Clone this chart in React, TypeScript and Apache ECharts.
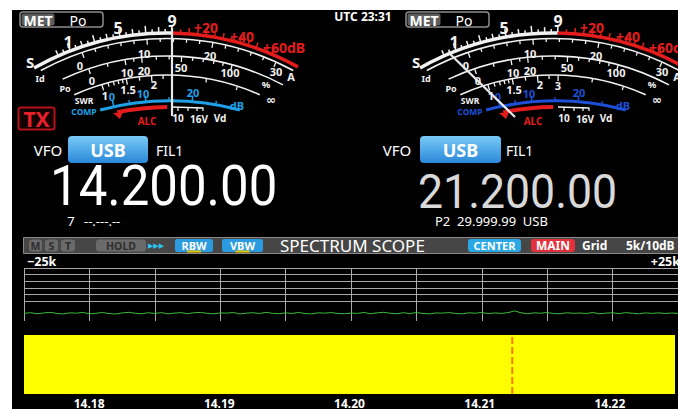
import React, { useEffect, useRef } from 'react';
import * as echarts from 'echarts';

// ---------------- data ----------------
const scopeNoiseDb = [
  11.4, 12.6, 10.9, 12.1, 13.0, 11.5, 10.7, 12.3, 11.8, 12.9,
  11.0, 11.6, 12.8, 11.2, 10.5, 12.1, 13.1, 11.7, 10.9, 12.5,
  11.3, 12.7, 10.8, 11.9, 12.6, 11.1, 12.4, 13.0, 11.5, 10.8,
  12.2, 11.9, 12.8, 10.7, 11.8, 12.5, 11.3, 13.0, 11.6, 11.0,
  12.3, 11.4, 12.9, 11.1, 10.8, 12.4, 11.8, 12.7, 11.3, 10.9,
  12.0, 11.5, 12.8, 11.0, 12.3, 13.1, 11.7, 10.9, 12.5, 11.2,
  12.8, 11.4, 10.7, 12.1, 11.9, 12.7, 11.3, 10.8, 12.4, 11.7,
  12.9, 11.1, 12.2, 11.5, 12.6, 15.2, 12.4, 11.0, 12.3, 11.8,
  12.7, 11.2, 10.9, 12.5, 11.6, 12.0, 11.3, 12.8, 10.8, 11.9,
  12.4, 11.1, 12.6, 11.7, 10.9, 12.2, 11.5, 12.3, 11.4, 12.0,
  11.6,
];
const noiseStartKHz = -25;
const noiseStepKHz = 0.5;
const scopeMinKHz = -25;
const scopeMaxKHz = 25;
const scopeDivKHz = 5;
const scopeMinDb = 0;
const scopeMaxDb = 80;
const scopeDivDb = 10;
const markerKHz = 12.5;
const freqTickKHz = [-20, -10, 0, 10, 20];
const freqTickLabels = ['14.18', '14.19', '14.20', '14.21', '14.22'];
const spanLabels = ['−25k', '+25k'];

const meterModeLabels = ['MET', 'Po'];
const sMeterLabels = ['S', '1', '5', '9'];
const dbOverLabels = ['+20', '+40', '+60dB'];
const idLabels = ['Id', '0', '10', '20', '30', 'A'];
const poLabels = ['Po', '0', '10', '20', '50', '100', '%'];
const swrLabels = ['SWR', '1', '1.5', '2', '3', '∞'];
const compLabels = ['COMP', '0', '10', '20', 'dB'];
const alcLabel = 'ALC';
const vdLabels = ['10', '16V', 'Vd'];

const mainFreq = '14.200.00';
const subFreq = '21.200.00';
const utcText = 'UTC 23:31';
const vfoTexts = ['VFO', 'USB', 'FIL1'];
const mainSubLine = ['7', '--.---.--'];
const subSubLine = 'P2  29.999.99  USB';
const headerDim = ['M', 'S', 'T', 'HOLD'];
const headerButtons = ['RBW', 'VBW'];
const headerTitle = 'SPECTRUM SCOPE';
const headerRight = ['CENTER', 'MAIN', 'Grid', '5k/10dB'];

// ---------------- drawing helpers ----------------
const FONT = '"Noto Sans", "DejaVu Sans", sans-serif';
const D = Math.PI / 180;
const C1 = [167, 303];
const C2 = [170, 378];
const WHITE = '#f2f2f2';
const RED = '#e41c1c';

function txt(x: number, y: number, text: string, size: number, fill: string, align = 'center', weight = 'bold', family = FONT, scaleX = 1) {
  return {
    type: 'text', x, y, scaleX, silent: true,
    style: { text, fill, font: `${weight} ${size}px ${family}`, textAlign: align, textVerticalAlign: 'middle', align, verticalAlign: 'middle' },
  };
}
function rect(x: number, y: number, w: number, h: number, fill: any, stroke = 'none', lw = 0, r = 0) {
  return { type: 'rect', silent: true, shape: { x, y, width: w, height: h, r }, style: { fill, stroke, lineWidth: lw } };
}
function seg(x1: number, y1: number, x2: number, y2: number, stroke: string, lw: number) {
  return { type: 'line', silent: true, shape: { x1, y1, x2, y2 }, style: { stroke, lineWidth: lw } };
}

function meter(dx: number, comp: string, needle: number[], showSwr3: boolean) {
  const e: any[] = [];
  const P = (c: number[], r: number, a: number) => [c[0] + dx + r * Math.cos(a * D), c[1] + r * Math.sin(a * D)];
  const arc = (c: number[], r: number, a0: number, a1: number, color: string, w: number) => ({
    type: 'arc', silent: true,
    shape: { cx: c[0] + dx, cy: c[1], r, startAngle: a0 * D, endAngle: a1 * D, clockwise: true },
    style: { stroke: color, lineWidth: w, fill: 'none' },
  });
  const tk = (c: number[], r0: number, r1: number, a: number, color: string, w = 1.3) => {
    const p = P(c, r0, a), q = P(c, r1, a);
    return seg(p[0], p[1], q[0], q[1], color, w);
  };
  const L = (x: number, y: number, s: string, size: number, color: string, align = 'center', weight = 'bold') =>
    txt(x + dx, y, s, size, color, align, weight);

  // MET / Po box
  e.push(rect(20 + dx, 12, 83, 15, 'none', '#8d8d8d', 1.5, 3));
  e.push(rect(21.5 + dx, 13.5, 33, 12, '#5e5e5e', 'none', 0, 2));
  e.push(L(38, 20, meterModeLabels[0], 14, '#fff'));
  e.push(L(78, 20, meterModeLabels[1], 14, '#fff', 'center', 'normal'));

  // S scale
  e.push(arc(C1, 270, -119.5, -89, WHITE, 3.5));
  e.push(arc(C1, 270, -89, -61, RED, 3.5));
  for (let n = 0; n <= 9; n += 0.5) {
    const a = -111 + (n - 1) * 2.75;
    const len = Number.isInteger(n) ? (n % 2 === 1 ? 7 : 5) : 3;
    e.push(tk(C1, 271, 271 + len, a, WHITE, 1.5));
  }
  for (let db = 5; db <= 60; db += 5) {
    const a = -89 + db * 0.365;
    const len = db % 20 === 0 ? 7 : db % 10 === 0 ? 5 : 3;
    e.push(tk(C1, 271, 271 + len, a, RED, 1.5));
  }
  const sPos = [[30, 62], [68, 42], [118, 28], [172, 21]];
  sMeterLabels.forEach((s, i) => e.push(L(sPos[i][0], sPos[i][1], s, i === 0 ? 15 : 16, WHITE)));
  e.push(L(206, 27, dbOverLabels[0], 14, RED));
  e.push(L(242, 36, dbOverLabels[1], 14, RED));
  e.push(L(263, 47, dbOverLabels[2], 14, RED, 'left'));

  // Id scale
  e.push(arc(C1, 264.5, -118.5, -61.5, WHITE, 1.6));
  for (let A = 0; A <= 30; A += 2) {
    const a = -108.7 + A * 1.435;
    e.push(tk(C1, 264, A % 10 === 0 ? 259 : 261, a, WHITE, 1.3));
  }
  const idPos = [[40, 78], [80, 65], [144, 53], [210, 55], [276, 71], [291, 76]];
  idLabels.forEach((s, i) => e.push(L(idPos[i][0], idPos[i][1], s, i === 0 ? 9 : 11, WHITE)));

  // Po scale
  e.push(arc(C1, 247, -115, -62, WHITE, 1.6));
  const poTicks = [-108.5, -104, -99.8, -97.8, -95.9, -92.5, -89.5, -86.6, -84, -81.5, -79, -76.8, -74.7];
  const poMajor = [0, 2, 4, 7, 12];
  poTicks.forEach((a, i) => e.push(tk(C1, 246.5, poMajor.includes(i) ? 241.5 : 243.5, a, WHITE, 1.3)));
  const poPos = [[65, 88], [92, 80], [127, 72], [144, 70], [181, 67], [230, 72], [266, 84]];
  poLabels.forEach((s, i) => e.push(L(poPos[i][0], poPos[i][1], s, i === 0 ? 9 : i === 6 ? 9.5 : 11, WHITE)));

  // SWR scale
  e.push(arc(C1, 228, -114, -66, WHITE, 1.6));
  const swrTicks = [-106.6, -105, -103.6, -102.4, -101.3, -100.3, -97, -93.9, -91, -88.7, -80, -72];
  const swrMajor = [0, 5, 7, 9];
  swrTicks.forEach((a, i) => e.push(tk(C1, 227.5, swrMajor.includes(i) ? 222 : 224, a, WHITE, 1.3)));
  const swrPos = [[84, 100.5], [105, 95], [128, 89], [154, 84], [172, 85], [271, 99]];
  swrLabels.forEach((s, i) => {
    if (i === 4 && !showSwr3) return;
    e.push(L(swrPos[i][0], swrPos[i][1], s, i === 0 ? 8.5 : i === 5 ? 12 : 11, WHITE));
  });

  // COMP scale
  e.push(arc(C2, 277, -104.6, -75.4, comp, 3));
  [-101.7, -95, -85.4].forEach((a) => e.push(tk(C2, 278, 283, a, comp, 1.5)));
  [-98.4, -90.2, -80.5].forEach((a) => e.push(tk(C2, 278, 281, a, comp, 1.3)));
  const compPos = [[84, 111], [112, 96], [143, 93], [193, 92], [237, 105]];
  compLabels.forEach((s, i) => e.push(L(compPos[i][0], compPos[i][1], s, i === 0 ? 8.5 : 11, comp)));

  // ALC
  e.push(arc(C2, 271, -101.2, -90.6, RED, 4));
  e.push({ type: 'polygon', silent: true, shape: { points: [[113 + dx, 113], [123 + dx, 112], [120 + dx, 119]] }, style: { fill: RED } });
  e.push(L(147, 121, alcLabel, 10, RED));

  // Vd bracket
  e.push(seg(172 + dx, 107, 203 + dx, 108, WHITE, 1.5));
  [178, 188, 197, 203].forEach((x) => e.push(seg(x + dx, 107.5, x + dx, 111, WHITE, 1.3)));
  const vdPos = [[178, 118], [199, 119], [220, 118]];
  vdLabels.forEach((s, i) => e.push(L(vdPos[i][0], vdPos[i][1], s, 10, WHITE)));

  // needle
  e.push(seg(needle[0], needle[1], needle[2], needle[3], '#e8e8e8', 2.2));
  return e;
}

function buildElements() {
  const e: any[] = [];
  // white page margins around the display
  e.push(rect(0, 0, 678, 10, '#fff'));
  e.push(rect(0, 0, 12, 409, '#fff'));

  e.push(...meter(0, '#1fa0e6', [172, 28, 172, 116], false));
  e.push(...meter(386, '#1d4fd6', [448, 52, 515, 117], true));
  e.push(txt(363, 16, utcText, 12, '#fff'));

  // TX box
  e.push(rect(18.5, 107.5, 36, 22, '#140000', '#b4121a', 2, 2));
  e.push(txt(36.5, 119, 'TX', 21, '#e8202a'));

  const btnFill = () => new echarts.graphic.LinearGradient(0, 0, 0, 1, [
    { offset: 0, color: '#78caf6' }, { offset: 1, color: '#2a88d8' },
  ]);
  // main VFO
  e.push(txt(48, 150, vfoTexts[0], 15, '#fff', 'center', 'normal'));
  e.push(rect(68, 136, 80, 27, btnFill(), 'none', 0, 4));
  e.push(txt(108, 149.5, vfoTexts[1], 18, '#fff', 'center', 'bold'));
  e.push(txt(156, 150, vfoTexts[2], 14, '#fff', 'left', 'normal'));
  e.push(txt(50, 186, mainFreq, 56, '#ffffff', 'left', 'normal', 'Roboto, "Noto Sans", sans-serif', 0.91));
  e.push(txt(71, 221, mainSubLine[0], 13, '#fff', 'center', 'normal'));
  e.push(txt(84, 221, mainSubLine[1], 13, '#fff', 'left', 'normal'));

  // sub VFO
  e.push(txt(397, 150, vfoTexts[0], 15, '#fff', 'center', 'normal'));
  e.push(rect(420, 136, 81, 27, btnFill(), 'none', 0, 4));
  e.push(txt(460.5, 149.5, vfoTexts[1], 18, '#fff', 'center', 'bold'));
  e.push(txt(506, 150, vfoTexts[2], 14, '#fff', 'left', 'normal'));
  e.push(txt(418, 191, subFreq, 48, '#d9d9d9', 'left', 'normal', 'Roboto, "Noto Sans", sans-serif', 0.93));
  e.push(txt(435, 221, subSubLine, 13, '#fff', 'left', 'normal'));

  // spectrum header bar
  e.push(rect(23.5, 237.5, 670, 16, '#464646', '#8a8a8a', 1, 0));
  const dimPos = [[29, 13], [45, 13], [61, 14], [96, 50]];
  headerDim.forEach((s, i) => {
    e.push(rect(dimPos[i][0], 239.5, dimPos[i][1], 12, '#6a6a6a', 'none', 0, 3));
    e.push(txt(dimPos[i][0] + dimPos[i][1] / 2, 245.5, s, 10.5, '#2e2e2e', 'center', 'bold'));
  });
  e.push(txt(156, 245.5, '▶▶▶', 7, '#2ec4f4', 'center', 'normal', '"DejaVu Sans", sans-serif'));
  const bPos = [[175, 38], [222, 41]];
  headerButtons.forEach((s, i) => {
    e.push(rect(bPos[i][0], 239, bPos[i][1], 13, '#2b9be0', 'none', 0, 2));
    e.push(txt(bPos[i][0] + bPos[i][1] / 2, 245, s, 11, '#fff', 'center', 'bold'));
    e.push(rect(bPos[i][0] + bPos[i][1] / 2 - 7, 250.5, 14, 2, '#e8c400'));
  });
  e.push(txt(280, 245.5, headerTitle, 17, '#fff', 'left', 'normal'));
  e.push(rect(468, 239, 53, 13, '#2aa8e4', 'none', 0, 3));
  e.push(txt(494.5, 245.5, headerRight[0], 11, '#fff', 'center', 'bold'));
  e.push(rect(531, 239, 44, 13, '#e4303c', 'none', 0, 3));
  e.push(txt(553, 245.5, headerRight[1], 12, '#fff', 'center', 'bold'));
  e.push(txt(582, 245.5, headerRight[2], 12, '#fff', 'left', 'bold'));
  e.push(txt(626, 245.5, headerRight[3], 12, '#fff', 'left', 'bold'));

  // span labels
  e.push(txt(27, 261, spanLabels[0], 12.5, '#fff', 'left', 'bold'));
  e.push(txt(680, 261, spanLabels[1], 12.5, '#fff', 'right', 'bold'));
  return e;
}

function buildOption() {
  const noise = scopeNoiseDb.map((v, i) => [noiseStartKHz + i * noiseStepKHz, v]);
  const gridLineColors = ['transparent', 'transparent', 'transparent', '#a8a8a8', '#a8a8a8', '#a8a8a8', '#a8a8a8', '#a8a8a8', '#a8a8a8'];
  return {
    animation: false,
    backgroundColor: '#000',
    grid: [
      { left: 24, top: 268, width: 663, height: 53, show: false },
      { left: 24, top: 335, width: 663, height: 62, show: true, backgroundColor: '#ffff00', borderWidth: 0 },
    ],
    xAxis: [
      {
        gridIndex: 0, type: 'value', min: scopeMinKHz, max: scopeMaxKHz, interval: scopeDivKHz,
        axisLine: { show: false }, axisTick: { show: false }, axisLabel: { show: false },
        splitLine: { show: true, lineStyle: { color: '#a8a8a8', width: 1 } },
      },
      {
        gridIndex: 1, type: 'value', min: scopeMinKHz, max: scopeMaxKHz, interval: scopeDivKHz,
        axisLine: { show: false }, axisTick: { show: false }, splitLine: { show: false },
        axisLabel: {
          show: true, color: '#fff', fontSize: 12, fontWeight: 'bold', fontFamily: FONT, margin: 3,
          formatter: (v: number) => { const i = freqTickKHz.indexOf(v); return i >= 0 ? freqTickLabels[i] : ''; },
        },
      },
    ],
    yAxis: [
      {
        gridIndex: 0, type: 'value', min: scopeMinDb, max: scopeMaxDb, interval: scopeDivDb,
        axisLine: { show: false }, axisTick: { show: false }, axisLabel: { show: false },
        splitLine: { show: true, lineStyle: { color: gridLineColors, width: 1 } },
      },
      { gridIndex: 1, type: 'value', min: 0, max: 1, show: false },
    ],
    series: [
      {
        type: 'line', xAxisIndex: 0, yAxisIndex: 0, data: noise, symbol: 'none', silent: true,
        lineStyle: { color: '#3dba3d', width: 1 },
      },
      {
        type: 'line', xAxisIndex: 1, yAxisIndex: 1, data: [[markerKHz, 0], [markerKHz, 1]], symbol: 'none', silent: true,
        lineStyle: { color: '#ff7a00', width: 2, type: [7, 3] },
      },
    ],
    graphic: { elements: buildElements() },
  };
}

export default function App() {
  const ref = useRef<HTMLDivElement>(null);
  useEffect(() => {
    document.body.style.margin = '0';
    const chart = echarts.init(ref.current as HTMLDivElement, undefined, { renderer: 'svg' });
    chart.setOption(buildOption() as any);
    return () => chart.dispose();
  }, []);
  return <div ref={ref} style={{ width: 678, height: 409 }} />;
}
